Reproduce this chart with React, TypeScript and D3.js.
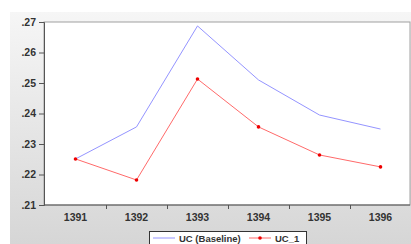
import React, { useEffect, useRef } from 'react'
import * as d3 from 'd3'

const years = ['1391', '1392', '1393', '1394', '1395', '1396']
const baseline = [0.2251, 0.2356, 0.2687, 0.251, 0.2395, 0.2349]
const uc1 = [0.2251, 0.2182, 0.2513, 0.2356, 0.2264, 0.2225]
const yTicks = [0.21, 0.22, 0.23, 0.24, 0.25, 0.26, 0.27]
const seriesNames = ['UC (Baseline)', 'UC_1']

const W = 411,
  H = 244,
  LEFT = 44,
  TOP = 22,
  BOTTOM = 205,
  RIGHT = 410

export default function App() {
  const node = useRef<SVGSVGElement>(null)

  useEffect(() => {
    const svg = d3.select(node.current)
    svg.selectAll('*').remove()

    const defs = svg.append('defs')
    const grad = defs.append('linearGradient')
      .attr('id', 'bg')
      .attr('x1', 0).attr('y1', 0).attr('x2', 0).attr('y2', 1)
    grad.append('stop').attr('offset', '0%').attr('stop-color', '#f6f6f6')
    grad.append('stop').attr('offset', '100%').attr('stop-color', '#d6d6d6')

    svg.append('rect')
      .attr('width', W).attr('height', H).attr('fill', '#fff')
    svg.append('rect')
      .attr('x', 10).attr('y', 12)
      .attr('width', W - 10).attr('height', H - 12)
      .attr('fill', 'url(#bg)')

    const x = d3.scaleBand().domain(years).range([LEFT + 1, LEFT + 1 + 61 * 6])
    const y = d3.scaleLinear().domain([0.21, 0.27]).range([BOTTOM, TOP])

    // plot area
    svg.append('rect')
      .attr('x', LEFT).attr('y', TOP)
      .attr('width', RIGHT - LEFT).attr('height', BOTTOM - TOP)
      .attr('fill', '#fff')
      .attr('stroke', '#a0a0a0')
      .attr('stroke-width', 1)

    const font = 'Liberation Sans, Arial, sans-serif'

    const yAxis = svg.append('g')
      .attr('transform', `translate(${LEFT},0)`)
      .call(d3.axisLeft(y).tickValues(yTicks).tickSize(5).tickPadding(3)
        .tickFormat(d => d3.format('.2f')(d as number).replace(/^0/, '')))
    yAxis.select('.domain').attr('stroke', '#555')
    yAxis.selectAll('line').attr('stroke', '#555')
    yAxis.selectAll('text')
      .attr('font-family', font).attr('font-size', 10.5)
      .attr('font-weight', 'bold').attr('fill', '#333')

    const xAxis = svg.append('g')
      .attr('transform', `translate(0,${BOTTOM})`)
    xAxis.append('line')
      .attr('x1', LEFT).attr('x2', RIGHT)
      .attr('stroke', '#555')
    xAxis.selectAll('.tk')
      .data(years.slice(1))
      .enter()
      .append('line')
      .attr('class', 'tk')
      .attr('x1', d => x(d)! + 0.5).attr('x2', d => x(d)! + 0.5)
      .attr('y1', 0).attr('y2', 4)
      .attr('stroke', '#555')
    xAxis.selectAll('.lb')
      .data(years)
      .enter()
      .append('text')
      .attr('class', 'lb')
      .attr('x', d => x(d)! + x.bandwidth() / 2)
      .attr('y', 15.5)
      .attr('text-anchor', 'middle')
      .attr('font-family', font).attr('font-size', 10.5)
      .attr('font-weight', 'bold').attr('fill', '#333')
      .text(d => d)

    const cx = (i: number) => x(years[i])! + x.bandwidth() / 2
    const line = d3.line<number>().x((d, i) => cx(i)).y(d => y(d))

    svg.append('path')
      .datum(baseline)
      .attr('d', line)
      .attr('fill', 'none')
      .attr('stroke', '#9494ff')
      .attr('stroke-width', 1)

    svg.append('path')
      .datum(uc1)
      .attr('d', line)
      .attr('fill', 'none')
      .attr('stroke', '#ff6a6a')
      .attr('stroke-width', 1)

    svg.selectAll('.dot')
      .data(uc1)
      .enter()
      .append('circle')
      .attr('class', 'dot')
      .attr('cx', (d, i) => cx(i))
      .attr('cy', d => y(d))
      .attr('r', 1.8)
      .attr('fill', '#ee0000')

    // legend
    const lg = svg.append('g')
    lg.append('rect')
      .attr('x', 149.5).attr('y', 231.5)
      .attr('width', 157).attr('height', 20)
      .attr('fill', '#fff').attr('stroke', '#333')
    lg.append('line')
      .attr('x1', 153).attr('x2', 175).attr('y1', 238).attr('y2', 238)
      .attr('stroke', '#9494ff')
    lg.append('text')
      .attr('x', 179).attr('y', 241.5)
      .attr('font-family', font).attr('font-size', 9.5)
      .attr('font-weight', 'bold').attr('fill', '#333')
      .text(seriesNames[0])
    lg.append('line')
      .attr('x1', 249).attr('x2', 271).attr('y1', 238).attr('y2', 238)
      .attr('stroke', '#ff6a6a')
    lg.append('circle')
      .attr('cx', 260).attr('cy', 238).attr('r', 1.8).attr('fill', '#ee0000')
    lg.append('text')
      .attr('x', 275).attr('y', 241.5)
      .attr('font-family', font).attr('font-size', 9.5)
      .attr('font-weight', 'bold').attr('fill', '#333')
      .text(seriesNames[1])
  }, [])

  return (
    <svg
      ref={node}
      width={W}
      height={H}
      style={{ position: 'absolute', left: 0, top: 0 }}
    />
  )
}
